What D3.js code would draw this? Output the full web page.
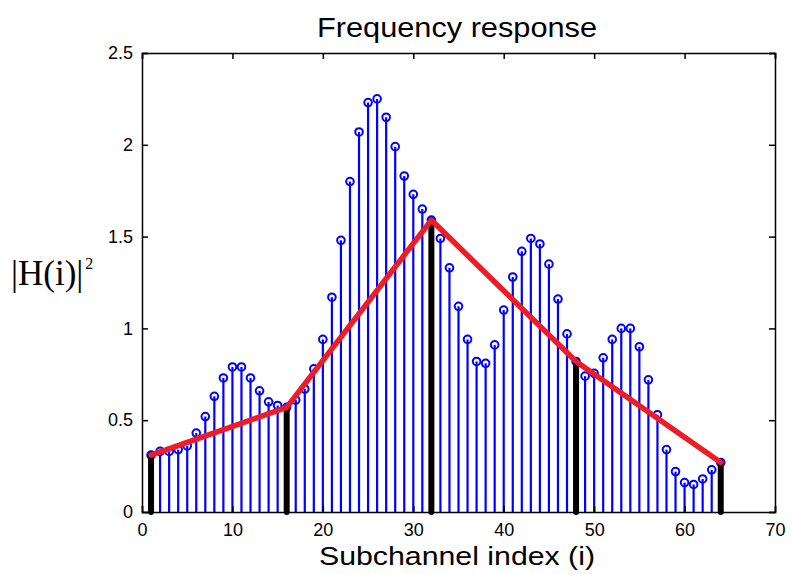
<!DOCTYPE html>
<html>
<head>
<meta charset="utf-8">
<script src="https://cdn.jsdelivr.net/npm/d3@7"></script>
<style>
  body { margin: 0; background: #fff; }
  svg text { font-family: "Liberation Sans", Arial, sans-serif; fill: #000; }
</style>
</head>
<body>
<div id="chart-area"></div>
<script>

// Channel gain |H(i)|^2 per subchannel
var subchannels = d3.range(1, 65);
var gains = [0.31, 0.33, 0.33, 0.34, 0.36, 0.43, 0.52, 0.63, 0.73, 0.79,
             0.79, 0.73, 0.66, 0.60, 0.58, 0.57, 0.61, 0.67, 0.78, 0.94,
             1.17, 1.48, 1.80, 2.07, 2.23, 2.25, 2.15, 1.99, 1.83, 1.73,
             1.65, 1.59, 1.49, 1.33, 1.12, 0.94, 0.82, 0.81, 0.91, 1.10,
             1.28, 1.42, 1.49, 1.46, 1.35, 1.16, 0.97, 0.82, 0.74, 0.755,
             0.84, 0.94, 1.00, 1.00, 0.90, 0.72, 0.53, 0.34, 0.22, 0.16,
             0.15, 0.18, 0.23, 0.27];

// Pilot subchannels (black stems, joined by the red line)
var pilots = [1, 16, 32, 48, 64];

var xTicks = [0, 10, 20, 30, 40, 50, 60, 70];
var yTicks = [0, 0.5, 1, 1.5, 2, 2.5];
var yTickLabels = ["0", "0.5", "1", "1.5", "2", "2.5"];

var width = 792, height = 574;
var margin = { top: 53, right: 17, bottom: 62, left: 142 };
var w = width - margin.left - margin.right;
var h = height - margin.top - margin.bottom;

var svg = d3.select("#chart-area").append("svg")
    .attr("width", width)
    .attr("height", height);

var g = svg.append("g")
    .attr("transform", "translate(" + margin.left + "," + margin.top + ")");

var x = d3.scaleLinear().domain([0, 70]).range([0, w]);
var y = d3.scaleLinear().domain([0, 2.5]).range([h, 0]);

var data = subchannels.map(function(i, k) { return { i: i, v: gains[k] }; });
var pilotData = data.filter(function(d) { return pilots.indexOf(d.i) >= 0; });

// blue stems
g.selectAll(".stem").data(data).enter().append("line")
    .attr("class", "stem")
    .attr("x1", function(d) { return x(d.i); })
    .attr("x2", function(d) { return x(d.i); })
    .attr("y1", y(0))
    .attr("y2", function(d) { return y(d.v); })
    .attr("stroke", "#0000ff")
    .attr("stroke-width", 2.2);

g.selectAll(".marker").data(data).enter().append("circle")
    .attr("class", "marker")
    .attr("cx", function(d) { return x(d.i); })
    .attr("cy", function(d) { return y(d.v); })
    .attr("r", 3.8)
    .attr("fill", "none")
    .attr("stroke", "#0000ff")
    .attr("stroke-width", 2);

// black pilot stems
g.selectAll(".pilot").data(pilotData).enter().append("line")
    .attr("class", "pilot")
    .attr("x1", function(d) { return x(d.i); })
    .attr("x2", function(d) { return x(d.i); })
    .attr("y1", y(0))
    .attr("y2", function(d) { return y(d.v); })
    .attr("stroke", "#000")
    .attr("stroke-width", 6)
    .attr("stroke-linecap", "round");

// red interpolation line
var line = d3.line()
    .x(function(d) { return x(d.i); })
    .y(function(d) { return y(d.v); });

g.append("path")
    .datum(pilotData)
    .attr("d", line)
    .attr("fill", "none")
    .attr("stroke", "#ee1c24")
    .attr("stroke-width", 5.5)
    .attr("stroke-linejoin", "round")
    .attr("stroke-linecap", "round");

// axes (MATLAB box with inward ticks)
var tickLen = 6;
var xAxis = d3.axisBottom(x).tickValues(xTicks).tickSize(-tickLen).tickPadding(11);
var yAxis = d3.axisLeft(y).tickValues(yTicks).tickSize(-tickLen).tickPadding(9)
    .tickFormat(function(d, k) { return yTickLabels[k]; });

var gx = g.append("g").attr("transform", "translate(0," + h + ")").call(xAxis);
var gy = g.append("g").call(yAxis);
var gxTop = g.append("g").call(d3.axisTop(x).tickValues(xTicks).tickSize(-tickLen).tickFormat(""));
var gyRight = g.append("g").attr("transform", "translate(" + w + ",0)")
    .call(d3.axisRight(y).tickValues(yTicks).tickSize(-tickLen).tickFormat(""));

[gx, gy, gxTop, gyRight].forEach(function(a) {
    a.selectAll("path, line").attr("stroke", "#000").attr("stroke-width", 1.5);
    a.selectAll("text").attr("font-size", 18).attr("font-family", "Liberation Sans, Arial, sans-serif");
});

// titles
svg.append("text")
    .attr("x", 317)
    .attr("y", 36.5)
    .attr("font-size", 27)
    .attr("textLength", 280)
    .attr("lengthAdjust", "spacingAndGlyphs")
    .text("Frequency response");

svg.append("text")
    .attr("x", 319)
    .attr("y", 565)
    .attr("font-size", 25)
    .attr("textLength", 276)
    .attr("lengthAdjust", "spacingAndGlyphs")
    .text("Subchannel index (i)");

var ylab = svg.append("text")
    .attr("x", 11)
    .attr("y", 285)
    .attr("font-size", 35)
    .style("font-family", "'Liberation Serif', 'Times New Roman', serif");
ylab.append("tspan").text("|H(i)|");
ylab.append("tspan").attr("font-size", 16).attr("dx", 2).attr("dy", -16).text("2");

</script>
</body>
</html>
